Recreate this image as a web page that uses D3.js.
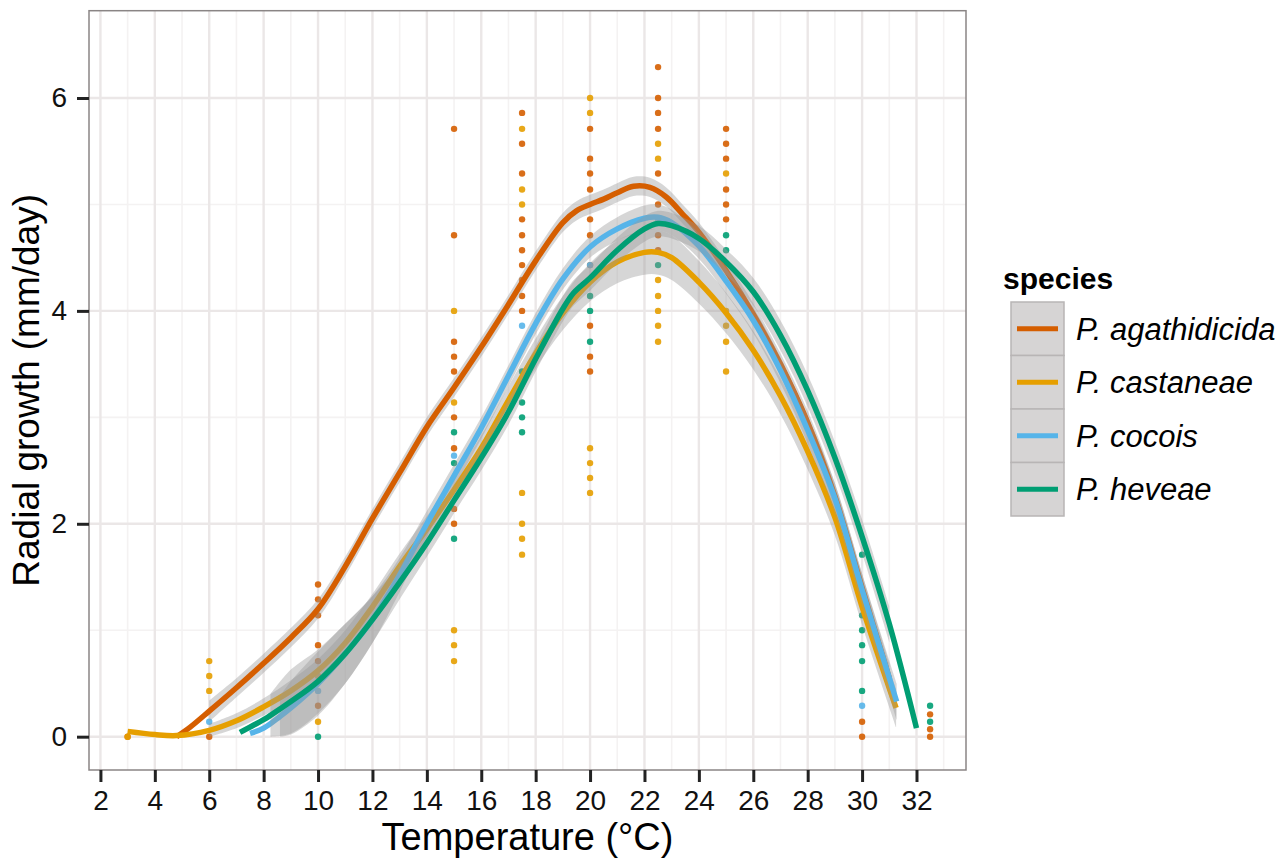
<!DOCTYPE html>
<html>
<head>
<meta charset="utf-8">
<script src="https://cdn.jsdelivr.net/npm/d3@7"></script>
<style>
  body { margin: 0; background: #fff; }
  svg text { font-family: "Liberation Sans", Arial, Helvetica, sans-serif; }
</style>
</head>
<body>
<div id="chart"></div>
<script>
// ---- data ----
var species = ["P. agathidicida", "P. castaneae", "P. cocois", "P. heveae"];
var colors  = ["#D55E00", "#E69F00", "#56B4E9", "#009E73"];

var xTicks = [2, 4, 6, 8, 10, 12, 14, 16, 18, 20, 22, 24, 26, 28, 30, 32];
var yTicks = [0, 2, 4, 6];

// observations [temperature, growth]
var agaPts = [[3,0],[6,0],[10,1.43],[10,1.29],[10,1.14],[10,0.86],[10,0.71],[10,0.29],
  [15,5.71],[15,4.71],[15,3.71],[15,3.57],[15,3.43],[15,3.0],[15,2.71],[15,2.14],[15,2.0],
  [17.5,5.86],[17.5,5.57],[17.5,5.29],[17.5,4.86],[17.5,4.71],[17.5,4.57],[17.5,4.43],[17.5,4.29],[17.5,4.14],[17.5,4.0],
  [20,5.71],[20,5.43],[20,5.29],[20,5.14],[20,4.86],[20,4.71],[20,4.43],[20,3.86],[20,3.57],[20,3.43],
  [22.5,6.29],[22.5,6.0],[22.5,5.86],[22.5,5.71],[22.5,5.29],[22.5,5.0],[22.5,4.71],[22.5,4.57],
  [25,5.71],[25,5.57],[25,5.43],[25,5.14],[25,5.0],[25,4.86],
  [30,0.14],[30,0],[32.5,0.21],[32.5,0.07],[32.5,0]];
var casPts = [[3,0],[6,0.71],[6,0.57],[6,0.43],[10,0.14],[10,0.57],
  [15,4.0],[15,3.14],[15,1.0],[15,0.86],[15,0.71],
  [17.5,5.71],[17.5,5.14],[17.5,5.0],[17.5,2.29],[17.5,2.0],[17.5,1.86],[17.5,1.71],
  [20,6.0],[20,5.86],[20,2.71],[20,2.57],[20,2.43],[20,2.29],
  [22.5,5.57],[22.5,5.43],[22.5,4.29],[22.5,4.14],[22.5,4.0],[22.5,3.86],[22.5,3.71],
  [25,5.29],[25,4.0],[25,3.86],[25,3.71],[25,3.43]];
var cocPts = [[6,0.14],[10,0.43],[15,2.64],[17.5,3.86],[20,4.43],[22.5,4.86],[30,0.29]];
var hevPts = [[10,0],[15,2.86],[15,2.57],[15,1.86],
  [17.5,3.43],[17.5,3.14],[17.5,3.0],[17.5,2.86],
  [20,4.14],[20,4.0],[20,3.71],[22.5,4.43],[25,4.71],[25,4.57],
  [30,1.71],[30,1.14],[30,1.0],[30,0.86],[30,0.71],[30,0.43],[32.5,0.29],[32.5,0.14]];

// smooth fits and their standard-error half widths
var agaFitX  = [4.8,5.3,6,7,8,9,10,11,12,13,14,15,16,17,18,19,19.5,20,20.5,21,21.6,22.2,22.8,23.4,24,25,26,27,28,29,30,31];
var agaFitY  = [0,0.09,0.24,0.46,0.69,0.93,1.2,1.6,2.05,2.48,2.91,3.28,3.66,4.06,4.47,4.83,4.94,5.0,5.05,5.11,5.17,5.16,5.07,4.91,4.74,4.38,3.97,3.5,2.95,2.26,1.4,0.55];
var agaFitSe = [0.12,0.11,0.1,0.09,0.09,0.09,0.09,0.09,0.09,0.09,0.09,0.09,0.09,0.09,0.09,0.09,0.09,0.09,0.09,0.09,0.09,0.09,0.09,0.09,0.09,0.09,0.1,0.1,0.11,0.12,0.13,0.14];

var casFitX  = [3,4,4.8,6,7,8,9,10,11,12,13,14,15,16,17,18,19,20,21,22,22.5,23,24,25,26,27,28,29,30,31.25];
var casFitY  = [0.05,0.02,0.01,0.06,0.15,0.28,0.43,0.62,0.88,1.22,1.6,1.95,2.32,2.71,3.16,3.6,3.98,4.27,4.46,4.55,4.55,4.5,4.27,3.98,3.63,3.2,2.68,2.06,1.22,0.27];
var casFitSe = [0.08,0.06,0.05,0.06,0.07,0.08,0.1,0.11,0.12,0.12,0.12,0.12,0.12,0.12,0.13,0.14,0.16,0.18,0.2,0.21,0.21,0.21,0.2,0.19,0.18,0.17,0.17,0.17,0.17,0.18];

var cocFitX  = [7.5,8,8.6,9,10,11,12,13,14,15,16,17,18,19,20,21,22,22.5,23,24,25,26,27,28,29,30,31.27];
var cocFitY  = [0.03,0.08,0.19,0.27,0.5,0.78,1.1,1.52,2.0,2.45,2.9,3.39,3.88,4.3,4.6,4.77,4.87,4.88,4.83,4.61,4.28,3.91,3.44,2.88,2.24,1.38,0.33];
var cocFitSe = [0.3,0.3,0.19,0.25,0.3,0.28,0.22,0.16,0.12,0.11,0.1,0.1,0.1,0.1,0.1,0.11,0.12,0.12,0.12,0.12,0.12,0.12,0.12,0.13,0.14,0.15,0.17];

var hevFitX  = [7.13,8,8.25,9,10,11,12,13,14,15,16,17,18,19,19.4,20,21,22,22.5,23,24,25,26,27,28,29,30,31,32];
var hevFitY  = [0.04,0.16,0.2,0.33,0.52,0.78,1.1,1.45,1.82,2.22,2.62,3.05,3.55,4.02,4.17,4.31,4.57,4.77,4.82,4.8,4.68,4.46,4.18,3.77,3.25,2.62,1.88,1.06,0.08];
var hevFitSe = [0.3,0.3,0.2,0.3,0.3,0.28,0.22,0.16,0.13,0.12,0.12,0.12,0.12,0.12,0.12,0.12,0.12,0.12,0.12,0.12,0.12,0.12,0.13,0.14,0.15,0.15,0.16,0.17,0.2];

function draw(){
    var W = 1281, H = 859;
    var panel = { left: 89, right: 966, top: 10.7, bottom: 770 };

    var x = d3.scaleLinear().domain([1.58, 33.82]).range([panel.left, panel.right]);
    var y = d3.scaleLinear().domain([-0.313, 6.82]).range([panel.bottom, panel.top]);

    var svg = d3.select("#chart")
        .append("svg")
        .attr("width", W)
        .attr("height", H);

    svg.append("rect")
        .attr("x", panel.left).attr("y", panel.top)
        .attr("width", panel.right - panel.left)
        .attr("height", panel.bottom - panel.top)
        .style("fill", "#fff");

    // grid: minor first, then major
    var minorX = d3.range(3, 34, 2), minorY = [1, 3, 5];
    var grid = svg.append("g").attr("class", "grid");
    grid.selectAll("line.mx").data(minorX).enter().append("line")
        .attr("x1", x).attr("x2", x).attr("y1", panel.top).attr("y2", panel.bottom)
        .style("stroke", "#f4f2f2").style("stroke-width", 1.6);
    grid.selectAll("line.my").data(minorY).enter().append("line")
        .attr("y1", y).attr("y2", y).attr("x1", panel.left).attr("x2", panel.right)
        .style("stroke", "#f4f2f2").style("stroke-width", 1.6);
    grid.selectAll("line.Mx").data(xTicks).enter().append("line")
        .attr("x1", x).attr("x2", x).attr("y1", panel.top).attr("y2", panel.bottom)
        .style("stroke", "#ebe7e7").style("stroke-width", 2.4);
    grid.selectAll("line.My").data(yTicks).enter().append("line")
        .attr("y1", y).attr("y2", y).attr("x1", panel.left).attr("x2", panel.right)
        .style("stroke", "#ebe7e7").style("stroke-width", 2.4);

    var plot = svg.append("g");

    // points
    var pts = [agaPts, casPts, cocPts, hevPts];
    pts.forEach(function(set, k) {
        plot.selectAll("circle.s" + k)
            .data(set)
          .enter().append("circle")
            .attr("class", "s" + k)
            .attr("r", 3.2)
            .attr("cx", function(d) { return x(d[0]); })
            .attr("cy", function(d) { return y(d[1]); })
            .style("fill", colors[k])
            .style("opacity", 0.9);
    });

    // smooths: ribbon then line for each group
    var fits = [
        [agaFitX, agaFitY, agaFitSe],
        [casFitX, casFitY, casFitSe],
        [cocFitX, cocFitY, cocFitSe],
        [hevFitX, hevFitY, hevFitSe]
    ];
    var curve = d3.curveCatmullRom.alpha(0.5);
    var area = d3.area()
        .x(function(d) { return x(d.x); })
        .y0(function(d) { return y(d.lo); })
        .y1(function(d) { return y(d.hi); })
        .curve(curve);
    var line = d3.line()
        .x(function(d) { return x(d.x); })
        .y(function(d) { return y(d.y); })
        .curve(curve);

    fits.forEach(function(f, k) {
        var rows = f[0].map(function(v, i) {
            return { x: v, y: f[1][i], lo: f[1][i] - f[2][i], hi: f[1][i] + f[2][i] };
        });
        // values below the y limit are dropped, as in the original plot
        var band = rows.filter(function(d) { return d.lo >= 0; });
        plot.append("path")
            .datum(band)
            .attr("d", area)
            .style("fill", "#999999")
            .style("opacity", 0.4);
        plot.append("path")
            .datum(rows)
            .attr("d", line)
            .style("fill", "none")
            .style("stroke", colors[k])
            .style("stroke-width", 5.5);
    });

    // panel border
    svg.append("rect")
        .attr("x", panel.left).attr("y", panel.top)
        .attr("width", panel.right - panel.left)
        .attr("height", panel.bottom - panel.top)
        .style("fill", "none")
        .style("stroke", "#8a8585")
        .style("stroke-width", 1.5);

    // axes
    var xAxis = svg.append("g")
        .attr("class", "x axis")
        .attr("transform", "translate(0," + panel.bottom + ")")
        .call(d3.axisBottom(x).tickValues(xTicks).tickSize(12).tickPadding(8));
    var yAxis = svg.append("g")
        .attr("class", "y axis")
        .attr("transform", "translate(" + panel.left + ",0)")
        .call(d3.axisLeft(y).tickValues(yTicks).tickSize(12).tickPadding(10));
    [xAxis, yAxis].forEach(function(a) {
        a.select(".domain").remove();
        a.selectAll(".tick line").style("stroke", "#222").style("stroke-width", 3);
        a.selectAll(".tick text")
            .style("font-size", "28px")
            .style("fill", "#111");
    });

    svg.append("text")
        .attr("x", (panel.left + panel.right) / 2)
        .attr("y", 850)
        .style("text-anchor", "middle")
        .style("font-size", "38px")
        .text("Temperature (°C)");

    svg.append("text")
        .attr("transform", "translate(39," + ((panel.top + panel.bottom) / 2) + ") rotate(-90)")
        .style("text-anchor", "middle")
        .style("font-size", "37px")
        .text("Radial growth (mm/day)");

    // legend
    var legend = svg.append("g").attr("class", "legend");
    legend.append("text")
        .attr("x", 1003)
        .attr("y", 289)
        .style("font-size", "30px")
        .style("font-weight", "bold")
        .text("species");

    var keyTop = 302, keyH = 53.5, keyX = 1011, keyW = 53;
    species.forEach(function(s, k) {
        var ty = keyTop + k * keyH;
        legend.append("rect")
            .attr("x", keyX).attr("y", ty)
            .attr("width", keyW).attr("height", keyH)
            .style("fill", "#d6d4d4")
            .style("stroke", "#b8b5b5")
            .style("stroke-width", 1.5);
        legend.append("line")
            .attr("x1", keyX + 6).attr("x2", keyX + keyW - 6)
            .attr("y1", ty + keyH / 2).attr("y2", ty + keyH / 2)
            .style("stroke", colors[k])
            .style("stroke-width", 5);
        legend.append("text")
            .attr("x", 1076)
            .attr("y", ty + keyH / 2)
            .attr("dy", "0.36em")
            .style("font-size", "31px")
            .style("font-style", "italic")
            .text(s);
    });
}

draw();
</script>
</body>
</html>
